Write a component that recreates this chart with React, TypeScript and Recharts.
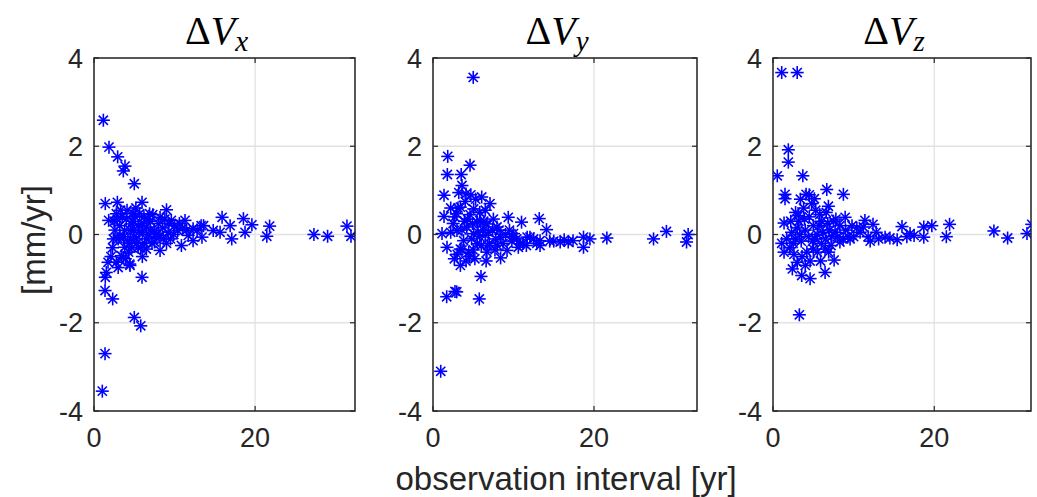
import React from "react";
import { ScatterChart, Scatter, XAxis, YAxis, CartesianGrid, ReferenceArea } from "recharts";

// [observation interval (yr), velocity difference (mm/yr)]
const dVxPoints = [
  [1.16, 2.59], [1.86, 1.98], [2.94, 1.76], [3.85, 1.55], [3.64, 1.44], [5.0, 1.15],
  [1.4, 0.7], [2.9, 0.73], [5.96, 0.73], [2.77, 0.47], [1.82, 0.32], [4.85, 0.47], [5.67, 0.47],
  [6.9, 0.47], [9.0, 0.56], [8.2, 0.39], [9.6, 0.32], [11.3, 0.32], [13.3, 0.2], [3.2, 0.2],
  [3.8, 0.09], [4.6, 0.24], [6.5, 0.17], [7.5, 0.09], [8.2, -0.02], [9.2, 0.05], [10.4, 0.09],
  [11.7, -0.02], [12.3, -0.14], [10.85, -0.25], [3.2, -0.06], [4.2, -0.14], [5.26, -0.1],
  [6.5, -0.33], [8.2, -0.36], [7.5, -0.17], [5.47, -0.29], [3.8, -0.29], [3.4, -0.48],
  [4.43, -0.67], [1.74, -0.63], [2.77, -0.63], [1.53, -0.86], [1.4, -0.97], [5.96, -0.97],
  [3.64, -0.52], [4.47, -0.7], [1.37, -1.27], [2.32, -1.46], [5.0, -1.88], [5.8, -2.07],
  [1.37, -2.7], [1.03, -3.55],
  [15.9, 0.39], [18.55, 0.36], [19.6, 0.22], [18.75, 0.05], [17.1, -0.1], [16.9, 0.2],
  [13.6, 0.2], [12.3, 0.13], [13.4, -0.06], [14.8, 0.09], [15.65, 0.05], [21.8, 0.19],
  [21.45, -0.04], [27.3, 0.0], [29.0, -0.04], [31.4, 0.19], [31.9, -0.04],
  [4.0, 0.35], [4.5, 0.1], [5.0, -0.05], [5.5, 0.2], [6.0, 0.05], [6.5, -0.1], [7.0, 0.3],
  [7.2, -0.2], [5.8, -0.3], [4.8, 0.3], [3.5, 0.4], [6.2, 0.4], [8.5, 0.15], [9.5, -0.1],
  [10.0, 0.2], [7.8, 0.0], [3.0, -0.1], [2.6, 0.1], [8.8, 0.35], [2.3, -0.3], [3.0, -0.75],
  [2.1, -0.5], [9.0, -0.2], [7.0, 0.1], [6.0, -0.5], [5.2, 0.6], [4.3, -0.4], [11.0, 0.15],
  [12.8, 0.1],
  [2.5, 0.3], [3.3, 0.55], [3.7, -0.05], [4.1, 0.55], [4.4, -0.2], [4.9, 0.1], [5.3, -0.2],
  [5.6, 0.05], [5.9, 0.25], [6.3, -0.2], [6.8, 0.0], [7.3, 0.45], [7.6, -0.05], [8.0, 0.25],
  [8.6, -0.1], [9.3, 0.25], [9.9, 0.0], [10.6, 0.25], [11.5, 0.1], [3.9, -0.55], [2.9, 0.35],
  [2.4, -0.1], [6.7, 0.35], [5.1, 0.4], [4.7, -0.3],
];

const dVyPoints = [
  [5.0, 3.56], [1.83, 1.77], [4.6, 1.57], [1.78, 1.36], [3.5, 1.36], [3.6, 1.11], [4.1, 0.92],
  [1.37, 0.89], [6.05, 0.85], [7.08, 0.7], [3.4, 0.62], [5.05, 0.58], [1.37, 0.41], [2.94, 0.47],
  [9.35, 0.39], [11.0, 0.28], [13.2, 0.36], [14.1, 0.11], [5.5, 0.28], [6.7, 0.24], [7.95, 0.17],
  [4.2, 0.17], [2.98, 0.09], [1.12, 0.02], [5.05, 0.02], [6.5, -0.02], [8.4, -0.06], [10.0, 0.02],
  [11.7, -0.06], [13.3, -0.14], [3.8, -0.14], [5.5, -0.21], [1.74, -0.29], [3.4, -0.33],
  [4.43, -0.4], [6.7, -0.4], [9.2, -0.36], [10.6, -0.29], [2.65, -0.55], [8.4, -0.53],
  [3.4, -0.7], [5.96, -0.95], [1.7, -1.41], [2.73, -1.29], [2.95, -1.3], [5.75, -1.46],
  [0.96, -3.1],
  [18.7, -0.06], [19.5, -0.1], [18.7, -0.29], [21.6, -0.08], [27.4, -0.1], [29.0, 0.07],
  [31.5, -0.17], [31.7, 0.0], [15.8, -0.17], [16.8, -0.17], [15.0, -0.15], [12.05, -0.06],
  [10.8, -0.21], [13.3, -0.25], [17.4, -0.14], [16.3, -0.12], [14.5, -0.15],
  [4.6, 0.45], [5.8, 0.5], [6.2, 0.1], [7.0, -0.2], [7.5, 0.35], [4.8, -0.1], [3.9, 0.3],
  [6.0, -0.25], [8.0, -0.25], [9.0, 0.0], [9.8, -0.15], [11.2, -0.2], [12.5, -0.1], [4.0, 0.75],
  [3.2, 0.95], [5.3, 0.8], [2.5, 0.25], [2.2, 0.6], [7.8, -0.1], [9.5, 0.1], [4.5, -0.5],
  [5.2, -0.55], [6.5, 0.55], [3.0, -0.45],
  [2.7, 0.4], [3.6, 0.1], [4.3, 0.35], [4.9, 0.25], [5.6, 0.05], [6.3, 0.3], [6.9, 0.05],
  [7.4, 0.1], [8.2, 0.1], [8.7, -0.2], [9.9, -0.05], [10.4, -0.1], [3.6, -0.35], [4.1, -0.6],
  [5.0, -0.35], [5.8, -0.05], [6.8, -0.25], [7.7, -0.35], [11.6, -0.25], [12.9, -0.2],
  [3.1, 0.6], [2.2, 0.05], [4.7, 0.9], [5.9, 0.3], [6.6, -0.6],
];

const dVzPoints = [
  [1.08, 3.67], [3.0, 3.67], [1.9, 1.92], [1.9, 1.64], [0.53, 1.33], [3.7, 1.33], [1.49, 0.91],
  [1.49, 0.81], [4.1, 0.91], [6.67, 1.02], [8.73, 0.91], [5.13, 0.81], [6.87, 0.64], [3.15, 0.43],
  [1.37, 0.26], [8.95, 0.39], [11.4, 0.32], [12.4, 0.23], [16.0, 0.18], [18.7, 0.17], [19.7, 0.2],
  [21.9, 0.23], [21.5, -0.05], [18.7, -0.06], [17.0, 0.02], [16.6, -0.05], [15.4, -0.12],
  [13.9, -0.06], [13.1, -0.1], [12.05, -0.15], [27.4, 0.08], [29.1, -0.08], [31.5, 0.02],
  [32.1, 0.23], [1.08, -0.2], [1.37, -0.4], [3.0, -0.63], [2.4, -0.78], [3.56, -0.93],
  [4.6, -1.0], [6.46, -0.86], [7.58, -0.58], [3.27, -1.82], [5.0, -0.33], [6.46, -0.33],
  [8.3, -0.17], [9.56, -0.1], [10.8, 0.05], [11.2, 0.17],
  [4.5, 0.4], [5.0, 0.2], [5.5, 0.0], [6.0, 0.3], [6.5, -0.1], [7.0, 0.1], [7.5, 0.3],
  [8.0, -0.05], [4.0, 0.1], [3.5, -0.15], [3.0, 0.15], [2.5, -0.2], [4.2, -0.4], [5.8, 0.45],
  [6.8, 0.25], [7.8, 0.35], [9.0, 0.1], [10.0, -0.05], [2.2, 0.3], [2.8, 0.5], [3.8, 0.6],
  [4.8, 0.7], [5.5, -0.4], [6.0, -0.2], [2.6, -0.45], [4.0, -0.7], [7.2, -0.25], [9.8, 0.2],
  [14.5, -0.08], [17.5, -0.02], [12.8, 0.05], [3.3, 0.0], [1.7, -0.1],
  [3.2, 0.3], [3.9, 0.35], [4.4, -0.05], [4.9, -0.15], [5.3, 0.55], [5.7, 0.2], [6.2, 0.05],
  [6.6, 0.5], [7.3, -0.05], [7.7, 0.05], [8.3, 0.2], [8.7, -0.1], [9.3, -0.05], [10.4, 0.15],
  [11.8, -0.05], [2.1, -0.3], [2.8, -0.1], [3.6, -0.5], [4.6, -0.6], [5.2, -0.1], [5.9, -0.6],
  [6.9, -0.4], [3.4, 0.8], [4.5, 0.9], [2.3, 0.05],
];

const xTicks = [0, 20];
const yTicks = [-4, -2, 0, 2, 4];
const xMax = [32.4, 32.8, 32.0];
const subscripts = ["x", "y", "z"];
const xLabel = "observation interval [yr]";
const yLabel = "[mm/yr]";

const AXIS = "#262626";
const SANS = "'Liberation Sans', Arial, Helvetica, sans-serif";
const SERIF = "'Liberation Serif', 'DejaVu Serif', serif";

// plot box positions on the page
const boxLeft = [94, 433, 773];
const boxRight = [355, 697, 1031];
const boxTop = 58;
const boxBottom = 411;
const Y_AXIS_W = 70;
const X_AXIS_H = 50;
const TICK_LEN = 5;

function Asterisk(props: any) {
  const { cx, cy } = props;
  if (cx == null || cy == null) return null;
  const r = 6.5;
  const d = r * 0.7071;
  return (
    <g stroke="#0000ff" strokeWidth={1.6}>
      <line x1={cx - r} y1={cy} x2={cx + r} y2={cy} />
      <line x1={cx} y1={cy - r} x2={cx} y2={cy + r} />
      <line x1={cx - d} y1={cy - d} x2={cx + d} y2={cy + d} />
      <line x1={cx - d} y1={cy + d} x2={cx + d} y2={cy - d} />
    </g>
  );
}

// left labels + inward ticks on both the left and right box edges
const YTick = (p: any) => (
  <g>
    <line x1={p.x} y1={p.y} x2={p.x + TICK_LEN} y2={p.y} stroke={AXIS} strokeWidth={1.2} />
    <line x1={p.x + p.plotW} y1={p.y} x2={p.x + p.plotW - TICK_LEN} y2={p.y} stroke={AXIS} strokeWidth={1.2} />
    <text x={p.x - 11} y={p.y} dy="0.36em" textAnchor="end" fontSize={27} fill={AXIS} fontFamily={SANS}>
      {p.payload.value}
    </text>
  </g>
);

// bottom labels + inward ticks on both the bottom and top box edges
const XTick = (p: any) => (
  <g>
    <line x1={p.x} y1={p.y} x2={p.x} y2={p.y - TICK_LEN} stroke={AXIS} strokeWidth={1.2} />
    <line x1={p.x} y1={p.y - p.plotH} x2={p.x} y2={p.y - p.plotH + TICK_LEN} stroke={AXIS} strokeWidth={1.2} />
    <text x={p.x} y={p.y + 17} dy="0.72em" textAnchor="middle" fontSize={27} fill={AXIS} fontFamily={SANS}>
      {p.payload.value}
    </text>
  </g>
);

function Panel({ idx, points }: { idx: number; points: number[][] }) {
  const data = points.map(([x, y]) => ({ x, y }));
  const plotW = boxRight[idx] - boxLeft[idx];
  const plotH = boxBottom - boxTop;
  const left = boxLeft[idx] - Y_AXIS_W;
  const width = plotW + Y_AXIS_W + 10;
  return (
    <div style={{ position: "absolute", left, top: 0 }}>
      <ScatterChart
        width={width}
        height={497}
        margin={{ top: boxTop, right: 10, bottom: 497 - boxBottom - X_AXIS_H, left: 0 }}
      >
        <CartesianGrid stroke="#e2e2e2" strokeWidth={1.3} />
        <XAxis
          type="number"
          dataKey="x"
          domain={[0, xMax[idx]]}
          allowDataOverflow
          ticks={xTicks}
          height={X_AXIS_H}
          tickSize={0}
          tickMargin={0}
          tickLine={false}
          axisLine={false}
          tick={(p: any) => <XTick {...p} plotH={plotH} />}
        />
        <YAxis
          type="number"
          dataKey="y"
          domain={[-4, 4]}
          allowDataOverflow
          ticks={yTicks}
          width={Y_AXIS_W}
          tickSize={0}
          tickMargin={0}
          tickLine={false}
          axisLine={false}
          tick={(p: any) => <YTick {...p} plotW={plotW} />}
        />
        <ReferenceArea
          x1={0}
          x2={xMax[idx]}
          y1={-4}
          y2={4}
          fill="none"
          fillOpacity={0}
          stroke={AXIS}
          strokeWidth={1.5}
          ifOverflow="visible"
        />
        <Scatter data={data} shape={<Asterisk />} isAnimationActive={false} />
      </ScatterChart>
    </div>
  );
}

export default function App() {
  const panels = [dVxPoints, dVyPoints, dVzPoints];
  return (
    <div style={{ position: "absolute", left: 0, top: 0, width: 1037, height: 497, background: "#fff", overflow: "hidden" }}>
      {panels.map((pts, i) => (
        <Panel key={i} idx={i} points={pts} />
      ))}
      <svg width={1037} height={497} style={{ position: "absolute", left: 0, top: 0, pointerEvents: "none" }}>
        {subscripts.map((s, i) => (
          <text
            key={s}
            x={(boxLeft[i] + boxRight[i]) / 2 - 8}
            y={44}
            textAnchor="middle"
            fontFamily={SERIF}
            fontSize={40}
            fill="#000"
          >
            <tspan>Δ</tspan>
            <tspan fontStyle="italic">V</tspan>
            <tspan fontStyle="italic" fontSize={29} dy={7}>{s}</tspan>
          </text>
        ))}
        <text x={566} y={490} textAnchor="middle" fontFamily={SANS} fontSize={33} fill={AXIS}>
          {xLabel}
        </text>
        <text
          transform="translate(45,240) rotate(-90)"
          textAnchor="middle"
          fontFamily={SANS}
          fontSize={33}
          fill={AXIS}
        >
          {yLabel}
        </text>
      </svg>
    </div>
  );
}
